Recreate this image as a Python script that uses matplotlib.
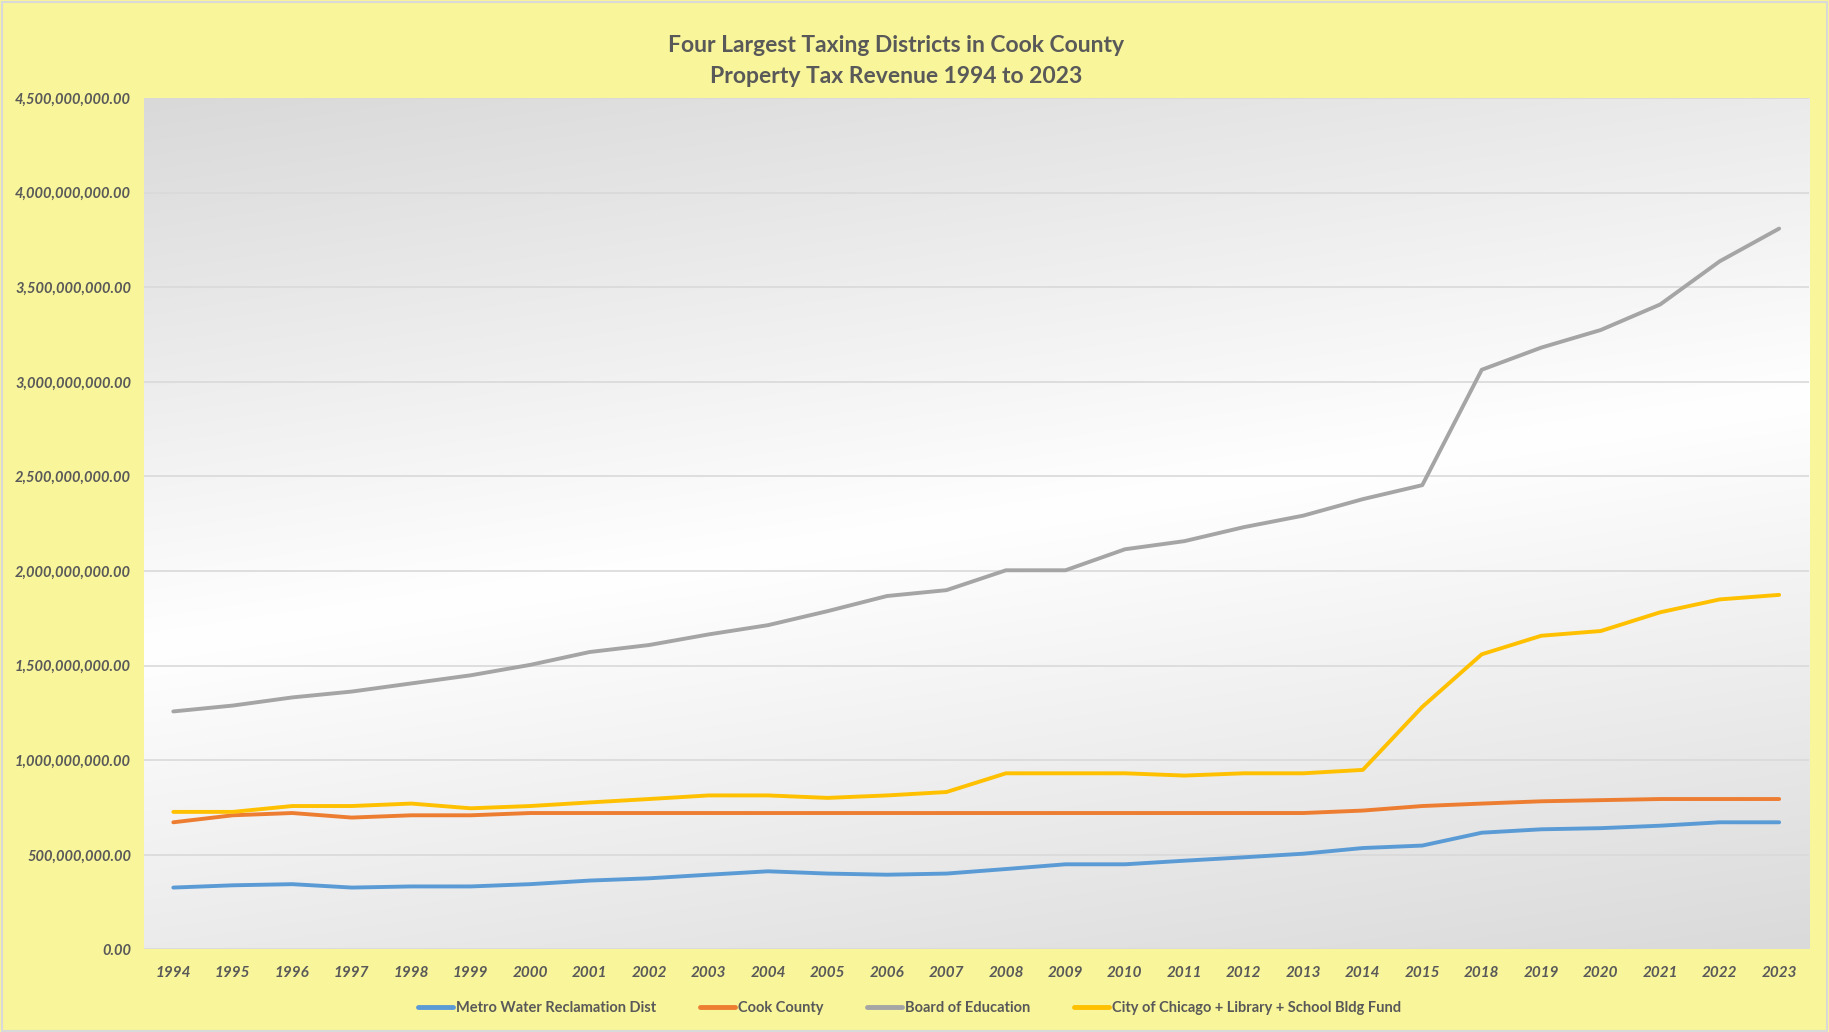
import numpy as np
import matplotlib
matplotlib.use("Agg")
from matplotlib import pyplot as plt
from matplotlib.patches import Rectangle
from matplotlib.ticker import FuncFormatter

years = ['1994', '1995', '1996', '1997', '1998', '1999', '2000', '2001', '2002', '2003',
         '2004', '2005', '2006', '2007', '2008', '2009', '2010', '2011', '2012', '2013',
         '2014', '2015', '2018', '2019', '2020', '2021', '2022', '2023']

metro_water = [0.327, 0.339, 0.345, 0.327, 0.333, 0.333, 0.345, 0.364, 0.376, 0.395,
               0.413, 0.401, 0.395, 0.401, 0.425, 0.450, 0.450, 0.469, 0.487, 0.506,
               0.536, 0.549, 0.617, 0.635, 0.641, 0.654, 0.672, 0.672]
cook_county = [0.672, 0.709, 0.721, 0.697, 0.709, 0.709, 0.721, 0.721, 0.721, 0.721,
               0.721, 0.721, 0.721, 0.721, 0.721, 0.721, 0.721, 0.721, 0.721, 0.721,
               0.734, 0.758, 0.771, 0.783, 0.789, 0.795, 0.795, 0.795]
board_of_ed = [1.258, 1.289, 1.332, 1.363, 1.406, 1.449, 1.504, 1.572, 1.609, 1.665,
               1.714, 1.788, 1.868, 1.899, 2.004, 2.004, 2.115, 2.158, 2.232, 2.293,
               2.380, 2.454, 3.064, 3.181, 3.274, 3.409, 3.637, 3.810]
city_chicago = [0.727, 0.727, 0.758, 0.758, 0.771, 0.746, 0.758, 0.777, 0.795, 0.814,
                0.814, 0.801, 0.814, 0.832, 0.931, 0.931, 0.931, 0.919, 0.931, 0.931,
                0.949, 1.282, 1.560, 1.658, 1.683, 1.782, 1.850, 1.874]  # billions

series = [
    ('Metro Water Reclamation Dist', metro_water, '#5B9BD5'),
    ('Cook County', cook_county, '#ED7D31'),
    ('Board of Education', board_of_ed, '#A5A5A5'),
    ('City of Chicago + Library + School Bldg Fund', city_chicago, '#FFC000'),
]

txt = '#595959'
bg = '#F9F59A'
plt.rcParams['font.family'] = ['Lato', 'DejaVu Sans']

fig = plt.figure(figsize=(18.29, 10.32), dpi=100, facecolor=bg)
fig.patches.append(Rectangle((0.001, 0.001), 0.998, 0.997, transform=fig.transFigure,
                             fill=False, edgecolor='#D9D9D9', linewidth=1.5))
ax = fig.add_axes([0.0785, 0.080, 0.9105, 0.825])
ax.set_facecolor('white')

# diagonal grey-white-grey gradient behind the plot area
gx, gy = np.meshgrid(np.linspace(0, 1, 300), np.linspace(1, 0, 300))
t = (1 - gy) * 0.85 + gx * 0.25
t = t / t.max()
shade = np.where(t < 0.5, 217 + (255 - 217) * (t / 0.5), 255 - (255 - 218) * ((t - 0.5) / 0.5)) / 255
img = np.dstack([shade, shade, shade])
ax.imshow(img, extent=[0, 1, 0, 1], transform=ax.transAxes, aspect='auto', zorder=0)

x = np.arange(len(years))
for name, vals, col in series:
    ax.plot(x, np.array(vals) * 1e9, color=col, linewidth=2.8, label=name,
            solid_capstyle='round', zorder=3)

ax.set_xlim(-0.5, len(years) - 0.5)
ax.set_ylim(0, 4.5e9)
ax.set_yticks(np.arange(0, 4.5e9 + 1, 5e8))
ax.yaxis.set_major_formatter(FuncFormatter(lambda v, p: '{:,.2f}'.format(v)))
ax.set_xticks(x)
ax.set_xticklabels(years)
ax.grid(axis='y', color='#D9D9D9', linewidth=1.2, zorder=1)
ax.set_axisbelow(True)
for s in ax.spines.values():
    s.set_visible(False)
ax.tick_params(length=0, colors=txt, labelsize=10.5)
ax.tick_params(axis='y', pad=9)
ax.tick_params(axis='x', pad=12, labelsize=11)
for lab in ax.get_xticklabels() + ax.get_yticklabels():
    lab.set_fontweight('bold')
    lab.set_fontstyle('italic')
    lab.set_color(txt)

fig.text(0.49, 0.966, 'Four Largest Taxing Districts in Cook County\nProperty Tax Revenue 1994 to 2023',
         ha='center', va='top', fontsize=16.5, fontweight='bold', color=txt, linespacing=1.6)

leg = ax.legend(loc='upper center', bbox_to_anchor=(0.46, -0.045), ncol=4, frameon=False,
                fontsize=10.5, handlelength=2.4, handletextpad=0.2, columnspacing=3.0)
for t_ in leg.get_texts():
    t_.set_color(txt)
    t_.set_fontweight('bold')
for h in leg.get_lines():
    h.set_linewidth(3.5)

fig.savefig('out.png', dpi=100, facecolor=bg)
